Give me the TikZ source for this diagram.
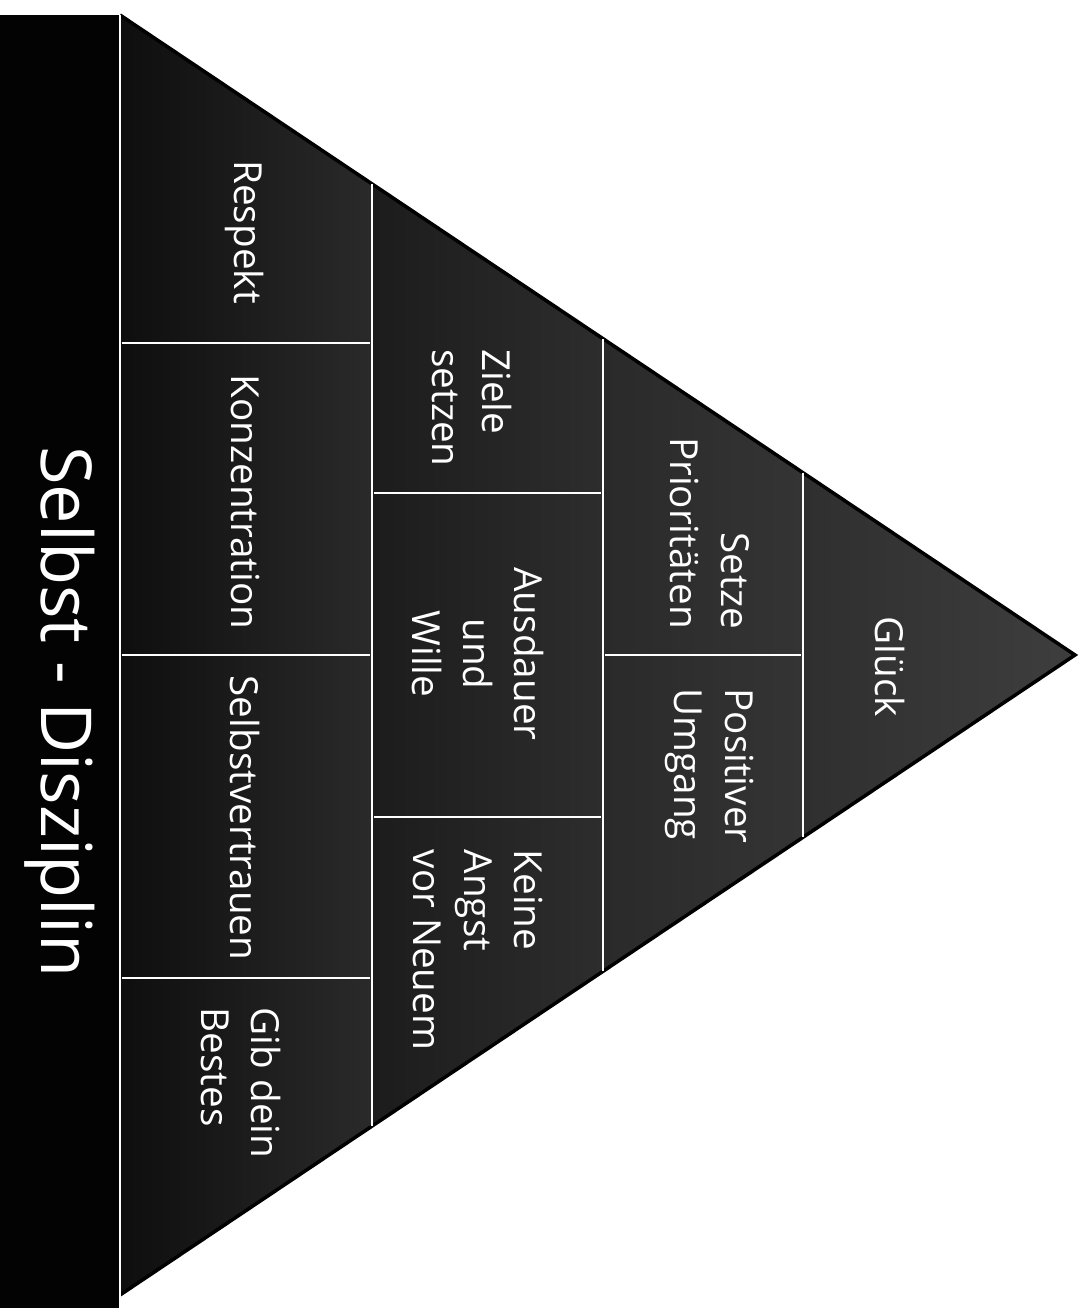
\documentclass[tikz,border=0pt]{standalone}
\usepackage{fontspec}
\setmainfont{Open Sans}
\usetikzlibrary{calc}

\definecolor{barBlack}{HTML}{030303}
\definecolor{cellDark}{HTML}{0E0E0E}
\definecolor{cellMid}{HTML}{2A2A2A}
\definecolor{cellLight}{HTML}{343434}

\begin{document}
\begin{tikzpicture}[
    x=0.02cm, y=-0.02cm,
    cellTxt/.style={
        text=white, rotate=-90, inner sep=0pt,
        font=\fontsize{22}{29}\selectfont
    },
    titleTxt/.style={
        text=white, rotate=-90, inner sep=0pt,
        font=\fontsize{40}{44}\selectfont
    },
    sepLine/.style={draw=white, line width=1.1pt},
    edgeLine/.style={draw=black, line width=2pt, line join=miter}
]
\useasboundingbox (0,0) rectangle (1082,1308);

% Corners of the pyramid
\coordinate (tl) at (120,15);
\coordinate (bl) at (120,1295);
\coordinate (apex) at (1075,655);

% Left bar
\fill[barBlack] (0,15) rectangle (120,1308);
\node[titleTxt] (title) at (60,712) {Selbst - Disziplin};

% Shaded layers
\begin{scope}
    \clip (tl) -- (apex) -- (bl) -- cycle;
    \shade[left color=cellDark, right color=cellMid] (120,0) rectangle (372,1308);
    \shade[left color=cellDark!50!cellMid, right color=cellMid!70!cellLight] (372,0) rectangle (603,1308);
    \shade[left color=cellMid, right color=cellLight] (603,0) rectangle (803,1308);
    \shade[left color=cellMid!50!cellLight, right color=cellLight!95!white] (803,0) rectangle (1080,1308);
\end{scope}
\draw[edgeLine] (tl) -- (apex) -- (bl);

% Vertical separators
\draw[sepLine] (tl) -- (120,1308);
\draw[sepLine] ($(tl)!0.264!(apex)$) -- ($(bl)!0.264!(apex)$);
\draw[sepLine] ($(tl)!0.506!(apex)$) -- ($(bl)!0.506!(apex)$);
\draw[sepLine] ($(tl)!0.715!(apex)$) -- ($(bl)!0.715!(apex)$);

% Horizontal separators
\draw[sepLine] (122,343) -- (370,343);
\draw[sepLine] (122,655) -- (370,655);
\draw[sepLine] (122,978) -- (370,978);
\draw[sepLine] (374,493) -- (601,493);
\draw[sepLine] (374,817) -- (601,817);
\draw[sepLine] (605,655) -- (801,655);

% Bottom layer
\node[cellTxt] (respekt) at (245,232) {Respekt};
\node[cellTxt] (konz) at (245,502) {Konzentration};
\node[cellTxt] (vertrauen) at (245,818) {Selbstvertrauen};
\node[cellTxt, align=left] (besten) at (241,1083) {Gib dein\\Bestes};

% Second layer
\node[cellTxt, align=left] (ziele) at (472,408) {Ziele\\setzen};
\node[cellTxt, align=center] (ausdauer) at (478,654) {Ausdauer\\und\\Wille};
\node[cellTxt, align=left] (angst) at (478,950) {Keine\\Angst\\vor Neuem};

% Third layer
\node[cellTxt, align=right] (prio) at (710,533) {Setze\\Prioritäten};
\node[cellTxt, align=left] (umgang) at (710,766) {Positiver\\Umgang};

% Top
\node[cellTxt] (glueck) at (890,667) {Glück};

\end{tikzpicture}
\end{document}
